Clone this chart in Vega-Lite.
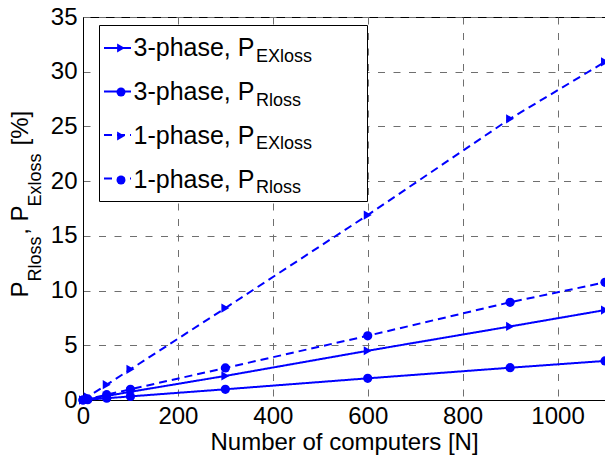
{
  "$schema": "https://vega.github.io/schema/vega-lite/v6.json",
  "width": 522,
  "height": 383,
  "autosize": {"type": "none"},
  "padding": {"left": 83, "top": 17, "right": 0, "bottom": 56},
  "background": "white",
  "config": {
    "font": "Liberation Sans",
    "view": {"stroke": "black", "strokeWidth": 1},
    "axis": {
      "labelFont": "Liberation Sans",
      "titleFont": "Liberation Sans",
      "labelColor": "black",
      "titleColor": "black",
      "labelFontSize": 24,
      "titleFontSize": 24,
      "titleFontWeight": "normal",
      "domainColor": "black",
      "domainWidth": 1,
      "ticks": false,
      "tickSize": 0,
      "gridColor": "#6f6f6f",
      "gridDash": [7, 8.5],
      "gridWidth": 1,
      "labelFlush": false,
      "labelOverlap": false
    },
    "legend": {"labelFont": "Liberation Sans"}
  },
  "data": {
    "values": [
      {"series": "3-phase EXloss", "N": 0, "P": 0},
      {"series": "3-phase EXloss", "N": 10, "P": 0.07},
      {"series": "3-phase EXloss", "N": 50, "P": 0.37},
      {"series": "3-phase EXloss", "N": 100, "P": 0.75},
      {"series": "3-phase EXloss", "N": 300, "P": 2.2},
      {"series": "3-phase EXloss", "N": 600, "P": 4.5},
      {"series": "3-phase EXloss", "N": 900, "P": 6.72},
      {"series": "3-phase EXloss", "N": 1100, "P": 8.22},
      {"series": "3-phase Rloss", "N": 0, "P": 0},
      {"series": "3-phase Rloss", "N": 10, "P": 0.03},
      {"series": "3-phase Rloss", "N": 50, "P": 0.16},
      {"series": "3-phase Rloss", "N": 100, "P": 0.33},
      {"series": "3-phase Rloss", "N": 300, "P": 0.98},
      {"series": "3-phase Rloss", "N": 600, "P": 1.98},
      {"series": "3-phase Rloss", "N": 900, "P": 2.95},
      {"series": "3-phase Rloss", "N": 1100, "P": 3.57},
      {"series": "1-phase EXloss", "N": 0, "P": 0},
      {"series": "1-phase EXloss", "N": 10, "P": 0.28},
      {"series": "1-phase EXloss", "N": 50, "P": 1.4},
      {"series": "1-phase EXloss", "N": 100, "P": 2.8},
      {"series": "1-phase EXloss", "N": 300, "P": 8.4},
      {"series": "1-phase EXloss", "N": 600, "P": 16.9},
      {"series": "1-phase EXloss", "N": 900, "P": 25.7},
      {"series": "1-phase EXloss", "N": 1100, "P": 30.9},
      {"series": "1-phase Rloss", "N": 0, "P": 0},
      {"series": "1-phase Rloss", "N": 10, "P": 0.1},
      {"series": "1-phase Rloss", "N": 50, "P": 0.49},
      {"series": "1-phase Rloss", "N": 100, "P": 0.98},
      {"series": "1-phase Rloss", "N": 300, "P": 2.93},
      {"series": "1-phase Rloss", "N": 600, "P": 5.87},
      {"series": "1-phase Rloss", "N": 900, "P": 8.93},
      {"series": "1-phase Rloss", "N": 1100, "P": 10.75}
    ]
  },
  "encoding": {
    "x": {
      "field": "N",
      "type": "quantitative",
      "scale": {"domain": [0, 1100], "nice": false, "zero": false},
      "axis": {
        "values": [0, 200, 400, 600, 800, 1000],
        "format": "d",
        "title": "Number of computers [N]",
        "labelPadding": 4,
        "titlePadding": 2
      }
    }
  },
  "layer": [
    {
      "mark": {"type": "point", "filled": true, "color": "#0000ff", "opacity": 1},
      "encoding": {
        "y": {
          "field": "P",
          "type": "quantitative",
          "scale": {"domain": [0, 35], "nice": false},
          "axis": {
            "values": [0, 5, 10, 15, 20, 25, 30, 35],
            "labelPadding": 6,
            "title": "P\u00a0\u00a0\u00a0\u00a0\u00a0\u00a0\u00a0, P\u00a0\u00a0\u00a0\u00a0\u00a0\u00a0\u00a0\u00a0 [%]",
            "titleX": -56,
            "titleY": 280,
            "titleAngle": -90,
            "titleAlign": "left",
            "titleBaseline": "alphabetic"
          }
        },
        "size": {
          "field": "series",
          "type": "ordinal",
          "scale": {"range": [85, 85, 85, 85]},
          "legend": {
            "orient": "none",
            "legendX": 16,
            "legendY": 8,
            "title": null,
            "columns": 2,
            "padding": 0,
            "columnPadding": 248,
            "rowPadding": 156,
            "symbolStrokeWidth": 0,
            "symbolOpacity": 0,
            "symbolFillColor": "transparent",
            "labelFontSize": 1,
            "labelOffset": 0,
            "labelExpr": "''",
            "strokeColor": "black",
            "fillColor": "white"
          }
        },
        "shape": {
          "field": "series",
          "type": "nominal",
          "scale": {
            "domain": ["3-phase EXloss", "3-phase Rloss", "1-phase EXloss", "1-phase Rloss"],
            "range": ["triangle-right", "circle", "triangle-right", "circle"]
          },
          "legend": {
            "orient": "top-left",
            "offset": 8,
            "title": null,
            "padding": 10.5,
            "rowPadding": 18,
            "labelFontSize": 25,
            "labelColor": "black",
            "labelBaseline": "middle",
            "labelOffset": 0,
            "labelLimit": 300,
            "symbolSize": 80,
            "symbolOffset": 7,
            "symbolFillColor": "#0000ff",
            "symbolStrokeColor": "#0000ff",
            "symbolOpacity": 1,
            "labelExpr": "slice(datum.label, 0, 7) + ', P'"
          }
        }
      }
    },
    {
      "mark": {"type": "line", "color": "#0000ff", "strokeWidth": 2},
      "encoding": {
        "y": {
          "field": "P",
          "type": "quantitative",
          "scale": {"domain": [0, 35], "nice": false},
          "axis": {
            "orient": "left",
            "labels": false,
            "ticks": false,
            "domain": false,
            "grid": false,
            "title": "Rloss\u00a0\u00a0\u00a0\u00a0\u00a0\u00a0Exloss",
            "titleFontSize": 18,
            "titleX": -43,
            "titleY": 264,
            "titleAngle": -90,
            "titleAlign": "left",
            "titleBaseline": "alphabetic"
          }
        },
        "strokeDash": {
          "field": "series",
          "type": "nominal",
          "scale": {
            "domain": ["3-phase EXloss", "3-phase Rloss", "1-phase EXloss", "1-phase Rloss"],
            "range": [[1, 0], [1, 0], [8, 5], [8, 5]]
          },
          "legend": {
            "orient": "none",
            "legendX": 20,
            "legendY": 16.5,
            "title": null,
            "padding": 0,
            "rowPadding": 10.5,
            "labelFontSize": 18,
            "labelColor": "black",
            "labelBaseline": "top",
            "labelOffset": 124,
            "labelLimit": 300,
            "symbolSize": 729,
            "symbolStrokeWidth": 2,
            "symbolStrokeColor": "#0000ff",
            "labelExpr": "slice(datum.label, 8)"
          }
        }
      }
    }
  ],
  "resolve": {"scale": {"y": "independent"}}
}
